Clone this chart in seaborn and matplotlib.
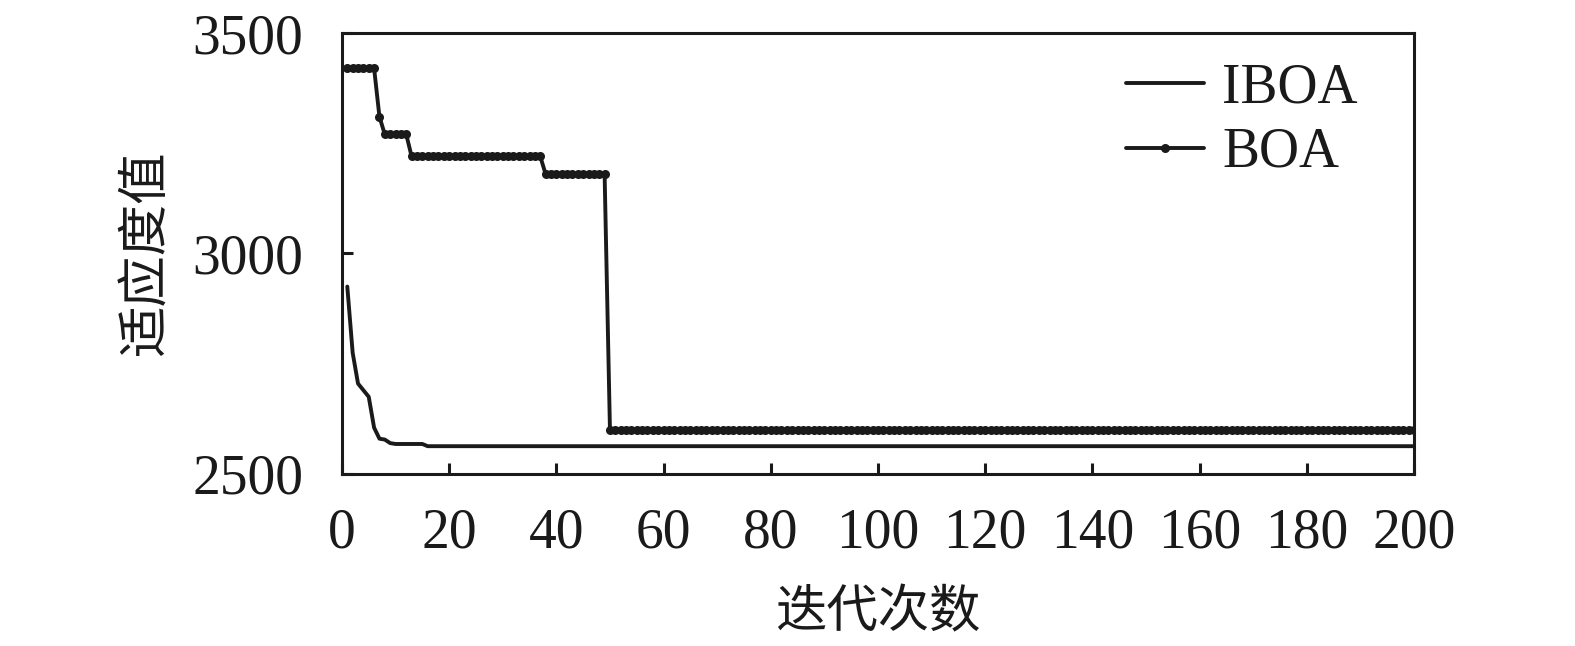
import numpy as np
import pandas as pd
import matplotlib
matplotlib.use("Agg")
import matplotlib.pyplot as plt
import seaborn as sns

# Data (run-length: value, number of iterations)
iboa_values = [2925, 2775, 2705, 2690, 2675, 2605, 2580, 2578, 2570, 2568, 2563]
iboa_counts = [1, 1, 1, 1, 1, 1, 1, 1, 1, 6, 185]
boa_values = [3420, 3310, 3270, 3220, 3180, 2600]
boa_counts = [6, 1, 5, 25, 12, 151]

iboa = np.repeat(iboa_values, iboa_counts)
boa = np.repeat(boa_values, boa_counts)
iters = np.arange(1, len(boa) + 1)

x_ticks = [0, 20, 40, 60, 80, 100, 120, 140, 160, 180, 200]
y_ticks = [2500, 3000, 3500]
x_label = "迭代次数"
y_label = "适应度值"

df = pd.DataFrame({
    "iter": np.concatenate([iters, iters]),
    "fit": np.concatenate([iboa, boa]),
    "algo": ["IBOA"] * len(iters) + ["BOA"] * len(iters),
})

sns.set_style("ticks")
plt.rcParams["font.family"] = ["Liberation Serif", "Noto Sans CJK SC", "DejaVu Sans"]

fig = plt.figure(figsize=(15.75, 6.46), dpi=100)
ax = fig.add_axes([0.2171, 0.2663, 0.6807, 0.6826])

sns.lineplot(data=df[df.algo == "IBOA"], x="iter", y="fit", ax=ax,
             color="#1a1a1a", linewidth=2.8, label="IBOA")
sns.lineplot(data=df[df.algo == "BOA"], x="iter", y="fit", ax=ax,
             color="#1a1a1a", linewidth=2.8, marker="o", markersize=6.5,
             markeredgewidth=0, label="BOA")

ax.set_xlim(0, 200)
ax.set_ylim(2500, 3500)
ax.set_xticks(x_ticks)
ax.set_yticks(y_ticks)
ax.tick_params(direction="in", length=8, width=2.2, labelsize=40,
               top=False, right=False, colors="#1a1a1a")
ax.tick_params(axis="y", pad=28)
ax.tick_params(axis="x", pad=24)
for s in ax.spines.values():
    s.set_linewidth(2.2)
    s.set_color("#1a1a1a")

ax.set_xlabel(x_label, fontsize=37, labelpad=22, color="#1a1a1a")
ax.set_ylabel(y_label, fontsize=37, labelpad=15, color="#1a1a1a")

leg = ax.legend(loc="upper right", frameon=False, fontsize=40,
                handlelength=1.4, handletextpad=0.33, labelspacing=0.22,
                borderaxespad=0.0, bbox_to_anchor=(0.968, 0.983))
for t in leg.get_texts():
    t.set_color("#1a1a1a")

fig.savefig("out.png", dpi=100)
